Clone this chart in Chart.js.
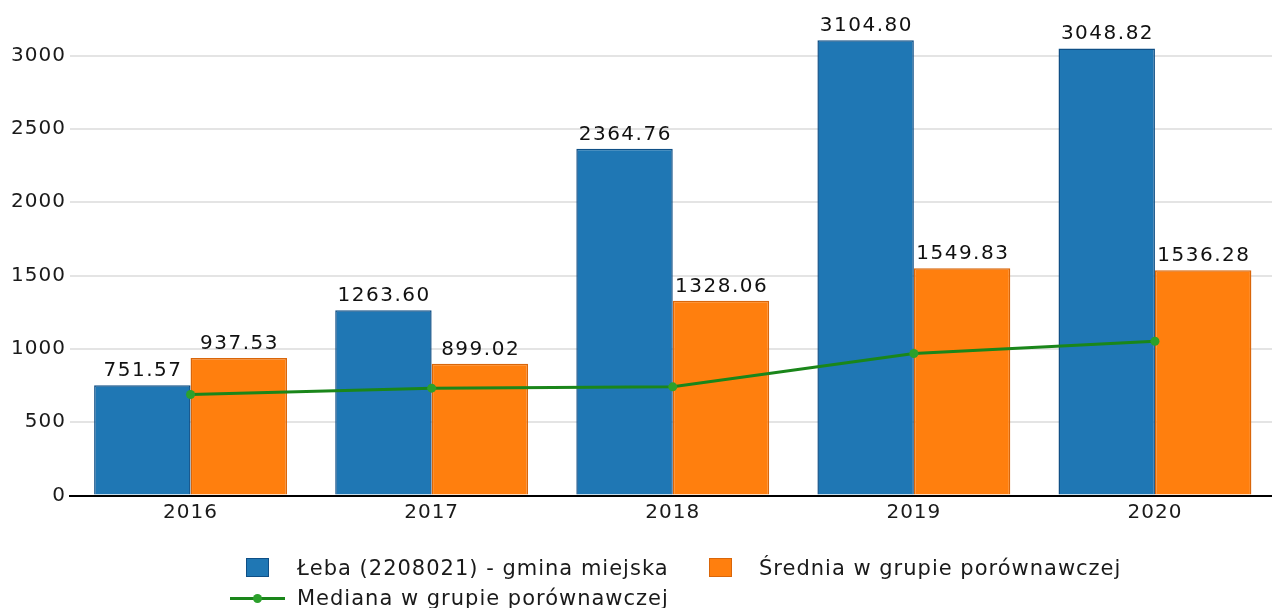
<!DOCTYPE html>
<html>
<head>
<meta charset="utf-8">
<script src="https://cdn.jsdelivr.net/npm/chart.js@4.4.1/dist/chart.umd.min.js"></script>
<style>
  html, body { margin: 0; padding: 0; background: #fff; overflow: hidden; width: 1272px; height: 608px; }
  #wrap { position: absolute; left: 0; top: 0; width: 1280px; height: 608px; }
  .lg { position: absolute; font-family: "DejaVu Sans", Verdana, sans-serif; font-size: 21px; letter-spacing: 1px; color: #1a1a1a; white-space: nowrap; line-height: 24px; }
  .sw { position: absolute; width: 21px; height: 17px; border: 1px solid; }
  .ln { position: absolute; height: 3px; background: #1a861a; }
  .dot { position: absolute; width: 9px; height: 9px; border-radius: 50%; background: #2ca02c; }
</style>
</head>
<body>
<div id="wrap"><canvas id="c" width="1280" height="608"></canvas></div>
<div class="sw" style="left:246px; top:558px; background:#1f77b4; border-color:#0f4f86;"></div>
<div class="lg" style="left:297px; top:556px;">Łeba (2208021) - gmina miejska</div>
<div class="sw" style="left:709px; top:558px; background:#ff7f0e; border-color:#d9660a;"></div>
<div class="lg" style="left:759px; top:556px;">Średnia w grupie porównawczej</div>
<div class="ln" style="left:230px; top:597px; width:55px;"></div>
<div class="dot" style="left:253px; top:594px;"></div>
<div class="lg" style="left:297px; top:586px;">Mediana w grupie porównawczej</div>
<script>
const categories = ["2016", "2017", "2018", "2019", "2020"];
const lebaValues = [751.57, 1263.60, 2364.76, 3104.80, 3048.82];
const sredniaValues = [937.53, 899.02, 1328.06, 1549.83, 1536.28];
const medianaValues = [689, 732, 741, 968, 1052];
const seriesNames = ["Łeba (2208021) - gmina miejska", "Średnia w grupie porównawczej", "Mediana w grupie porównawczej"];
const yTicks = [0, 500, 1000, 1500, 2000, 2500, 3000];

const labelPlugin = {
  id: 'barLabels',
  beforeDraw(chart) { chart.ctx.letterSpacing = '1px'; },
  afterDatasetsDraw(chart) {
    const ctx = chart.ctx;
    ctx.save();
    ctx.font = '20px "DejaVu Sans", Verdana, sans-serif';
    ctx.letterSpacing = '1.5px';
    ctx.fillStyle = '#111';
    ctx.textAlign = 'center';
    ctx.textBaseline = 'alphabetic';
    chart.data.datasets.forEach((ds, i) => {
      if (ds.type !== 'bar') return;
      const meta = chart.getDatasetMeta(i);
      meta.data.forEach((el, j) => {
        ctx.fillText(ds.data[j].toFixed(2), el.x + 0.75, el.y - 9);
      });
    });
    ctx.restore();
  }
};

new Chart(document.getElementById('c'), {
  data: {
    labels: categories,
    datasets: [
      { type: 'line', label: seriesNames[2], data: medianaValues, order: 0,
        borderColor: '#1a861a', borderWidth: 3, backgroundColor: '#2ca02c',
        pointRadius: 4.5, pointBackgroundColor: '#2ca02c', pointBorderWidth: 0, tension: 0 },
      { type: 'bar', label: seriesNames[0], data: lebaValues, order: 1,
        backgroundColor: '#1f77b4', borderColor: '#0f4f86', borderWidth: 1.5,
        categoryPercentage: 0.8, barPercentage: 1.0 },
      { type: 'bar', label: seriesNames[1], data: sredniaValues, order: 2,
        backgroundColor: '#ff7f0e', borderColor: '#d9660a', borderWidth: 1.5,
        categoryPercentage: 0.8, barPercentage: 1.0 }
    ]
  },
  options: {
    responsive: false,
    animation: false,
    devicePixelRatio: 1,
    layout: { padding: { left: 0, right: 0, top: 0, bottom: 0 } },
    plugins: { legend: { display: false }, tooltip: { enabled: false } },
    scales: {
      x: {
        grid: { display: false, drawTicks: false },
        border: { display: true, color: '#000', width: 2 },
        ticks: { color: '#1a1a1a', padding: 5, font: { family: '"DejaVu Sans", Verdana, sans-serif', size: 20 } },
        afterFit(scale) { scale.height = 112.5; }
      },
      y: {
        min: 0, max: 3270,
        afterBuildTicks(scale) { scale.ticks = yTicks.map(v => ({ value: v })); },
        grid: { color: (c) => c.tick && c.tick.value === 0 ? 'rgba(0,0,0,0)' : '#e4e4e4', lineWidth: 2, drawTicks: false },
        border: { display: false },
        ticks: { color: '#1a1a1a', padding: 4, font: { family: '"DejaVu Sans", Verdana, sans-serif', size: 20 },
          callback: (v) => String(v) },
        afterFit(scale) { scale.width = 70; }
      }
    }
  },
  plugins: [labelPlugin]
});
</script>
</body>
</html>
